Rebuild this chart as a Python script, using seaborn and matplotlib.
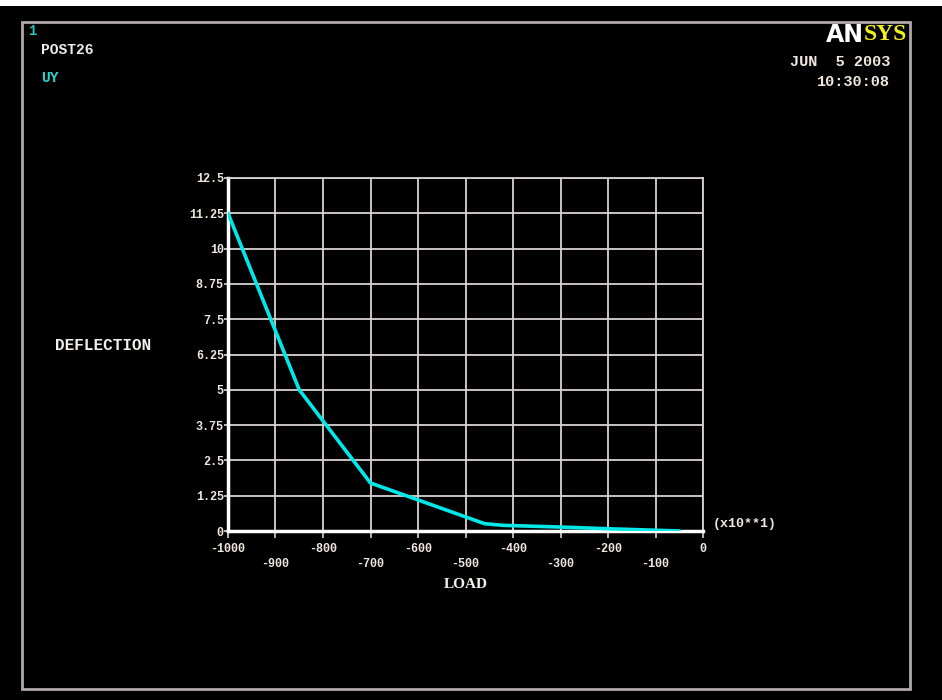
import numpy as np
import matplotlib
matplotlib.use("Agg")
import matplotlib.pyplot as plt
import pandas as pd
import seaborn as sns

# data (load in units of x10**1)
load = [-1000, -850, -700, -460, -420, -300, -200, -50]
deflection = [11.25, 5.0, 1.7, 0.26, 0.2, 0.14, 0.08, 0.0]

y_ticks = [0, 1.25, 2.5, 3.75, 5, 6.25, 7.5, 8.75, 10, 11.25, 12.5]
y_labels = ["0", "1.25", "2.5", "3.75", "5", "6.25", "7.5", "8.75", "10", "11.25", "12.5"]
x_ticks = [-1000, -900, -800, -700, -600, -500, -400, -300, -200, -100, 0]
x_labels = ["-1000", "-900", "-800", "-700", "-600", "-500", "-400", "-300", "-200", "-100", "0"]

df = pd.DataFrame({"LOAD": load, "DEFLECTION": deflection})

sns.set_theme(style="dark")
plt.rcParams['font.family'] = ['Liberation Mono', 'DejaVu Sans Mono']

W, H = 942, 700
fig = plt.figure(figsize=(W / 100, H / 100), dpi=100, facecolor="black")
ax = fig.add_axes([228 / W, 1 - 531 / H, 475 / W, 353 / H])
ax.set_facecolor("black")

grid_col = "#d9d2d2"
sns.lineplot(data=df, x="LOAD", y="DEFLECTION", ax=ax, color="#00e8e8",
             linewidth=2.6, estimator=None, zorder=5)

ax.set_xlim(-1000, 0)
ax.set_ylim(0, 12.5)
ax.set_yticks(y_ticks)
ax.set_yticklabels(y_labels)
# ANSYS staggers the x labels on two rows
ax.set_xticks(x_ticks)
ax.set_xticklabels([lab if i % 2 == 0 else "\n" + lab for i, lab in enumerate(x_labels)],
                   linespacing=1.3)
ax.grid(True, color=grid_col, linewidth=1.3)
ax.tick_params(colors=grid_col, labelcolor="#f0e8e0", labelsize=8.5, length=5, width=1.2,
               bottom=True, left=True)
for lab in ax.get_xticklabels() + ax.get_yticklabels():
    lab.set_fontweight("bold")
ax.tick_params(axis="x", pad=4)
ax.tick_params(axis="y", pad=0, length=3)

for side in ["left", "bottom"]:
    ax.spines[side].set_color("white")
    ax.spines[side].set_linewidth(2.5)
for side in ["top", "right"]:
    ax.spines[side].set_color(grid_col)
    ax.spines[side].set_linewidth(1.3)

ax.set_xlabel("")
ax.set_ylabel("")

# labels placed like the ANSYS screen
fig.text(466 / W, 1 - 584 / H, "LOAD", color="#f4efe8", fontsize=11, fontweight="bold",
         family="Liberation Serif", ha="center", va="center")
fig.text(55 / W, 1 - 346 / H, "DEFLECTION", color="#f4efe8", fontsize=11.5, fontweight="bold",
         ha="left", va="center")
fig.text(713 / W, 1 - 524 / H, "(x10**1)", color="#f0e8e0", fontsize=9.5, fontweight="bold",
         ha="left", va="center")

# header texts
fig.text(28 / W, 1 - 31 / H, "1", color="#20c8c0", fontsize=10, fontweight="bold", va="center")
fig.text(41 / W, 1 - 50 / H, "POST26", color="#f0ece6", fontsize=10.5, fontweight="bold", va="center")
fig.text(41 / W, 1 - 78 / H, "UY", color="#30d0c8", fontsize=10.5, fontweight="bold", va="center")
fig.text(890 / W, 1 - 62 / H, "JUN  5 2003", color="#f0e8e0", fontsize=11, fontweight="bold",
         ha="right", va="center")
fig.text(890 / W, 1 - 82 / H, "10:30:08", color="#f0e8e0", fontsize=11, fontweight="bold",
         ha="right", va="center")
fig.text(864 / W, 1 - 35 / H, "AN", color="white", fontsize=17, fontweight="bold",
         family="DejaVu Sans", ha="right", va="center")
fig.text(864 / W, 1 - 35 / H, "SYS", color="#f0f020", fontsize=17, fontweight="bold",
         family="Liberation Serif", ha="left", va="center")

# outer frame and top white strip
fig.patches.append(plt.Rectangle((22 / W, 1 - 689 / H), 888 / W, 667 / H, transform=fig.transFigure,
                                 fill=False, edgecolor="#b0a8a8", linewidth=2))
fig.patches.append(plt.Rectangle((0, 1 - 6 / H), 1, 6 / H, transform=fig.transFigure,
                                 facecolor="white", edgecolor="none"))

fig.savefig("out.png", dpi=100, facecolor="black")
